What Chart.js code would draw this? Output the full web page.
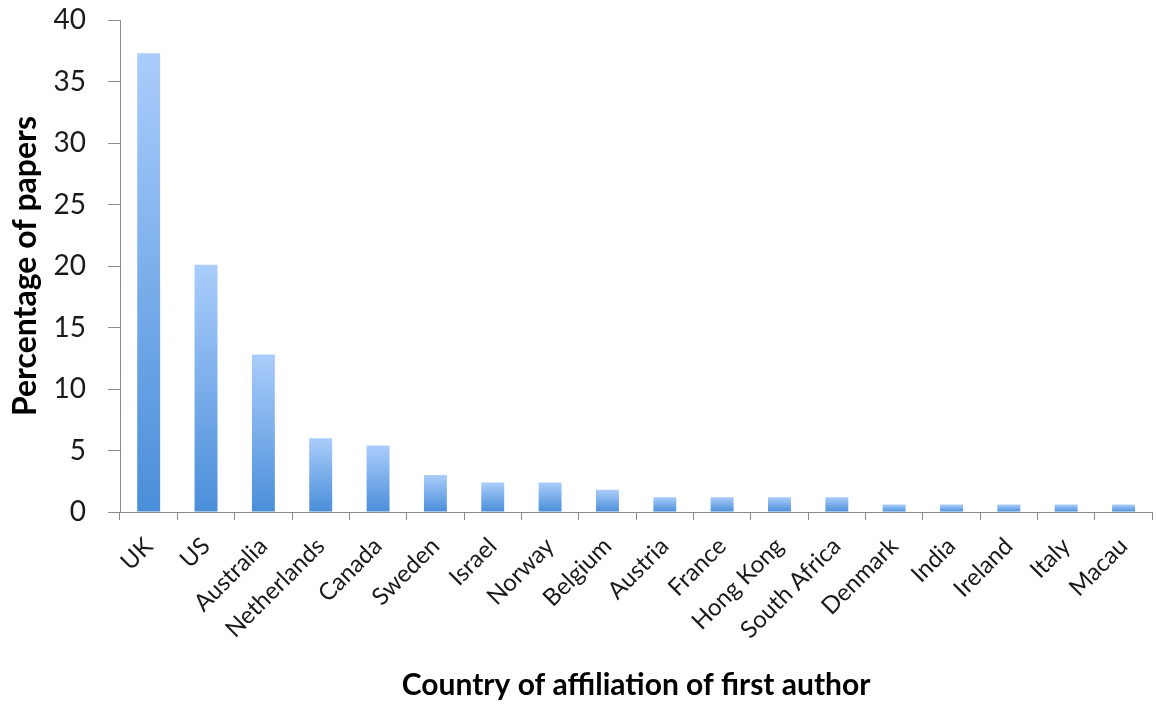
<!DOCTYPE html>
<html>
<head>
<meta charset="utf-8">
<script src="https://cdn.jsdelivr.net/npm/chart.js@4/dist/chart.umd.min.js"></script>
<style>
  html, body { margin: 0; padding: 0; background: #ffffff; }
  #wrap { width: 1156px; height: 709px; position: relative; }
</style>
</head>
<body>
<div id="wrap"><canvas id="chart" width="1156" height="709"></canvas></div>
<script>
// Share of papers by country of the first author's affiliation
const countries = ['UK', 'US', 'Australia', 'Netherlands', 'Canada', 'Sweden', 'Israel', 'Norway',
  'Belgium', 'Austria', 'France', 'Hong Kong', 'South Africa', 'Denmark', 'India', 'Ireland', 'Italy', 'Macau'];
const percentPapers = [37.3, 20.1, 12.8, 6.0, 5.4, 3.0, 2.4, 2.4, 1.8, 1.2, 1.2, 1.2, 1.2, 0.6, 0.6, 0.6, 0.6, 0.6];
const yTicks = [0, 5, 10, 15, 20, 25, 30, 35, 40];

const FONT = 'Lato, "Open Sans", sans-serif';

// vertical gradient for each bar: light at the top, deeper blue at the base
function barGradient(ctx) {
  const chart = ctx.chart;
  const area = chart.chartArea;
  if (!area || ctx.raw === undefined) return '#7aaeea';
  const y = chart.scales.y;
  const top = y.getPixelForValue(ctx.raw);
  const base = y.getPixelForValue(0);
  const g = chart.ctx.createLinearGradient(0, top, 0, base);
  g.addColorStop(0, '#aacdfb');
  g.addColorStop(1, '#4a8ed9');
  return g;
}

new Chart(document.getElementById('chart'), {
  type: 'bar',
  data: {
    labels: countries,
    datasets: [{
      data: percentPapers,
      backgroundColor: barGradient,
      borderWidth: 0,
      barPercentage: 0.4,
      categoryPercentage: 1.0
    }]
  },
  options: {
    responsive: false,
    animation: false,
    layout: { padding: { top: 20, right: 3, left: 0, bottom: 0 } },
    plugins: { legend: { display: false }, tooltip: { enabled: false } },
    scales: {
      x: {
        grid: { drawOnChartArea: false, offset: true, tickLength: 8, color: '#8a8a8a', lineWidth: 1 },
        border: { color: '#8a8a8a', width: 1 },
        ticks: {
          color: '#1a1a1a',
          font: { family: FONT, size: 24 },
          maxRotation: 45, minRotation: 45,
          autoSkip: false,
          padding: 12
        },
        title: {
          display: true,
          text: 'Country of affiliation of first author',
          color: '#000000',
          font: { family: FONT, size: 30, weight: 'bold' },
          padding: { top: 0, bottom: 6 }
        },
        afterFit: (s) => { s.height = 197; }
      },
      y: {
        min: 0, max: 40,
        afterBuildTicks: (s) => { s.ticks = yTicks.map(v => ({ value: v })); },
        grid: { drawOnChartArea: false, tickLength: 12, color: '#8a8a8a', lineWidth: 1 },
        border: { color: '#8a8a8a', width: 1 },
        ticks: {
          color: '#1a1a1a',
          font: { family: FONT, size: 28 },
          padding: 22
        },
        title: {
          display: true,
          text: 'Percentage of papers',
          color: '#000000',
          font: { family: FONT, size: 32, weight: 'bold' },
          padding: { top: 6, bottom: 0 }
        },
        afterFit: (s) => { s.width = 120; s.paddingTop = 0; s.paddingBottom = 0; }
      }
    }
  }
});
</script>
</body>
</html>
